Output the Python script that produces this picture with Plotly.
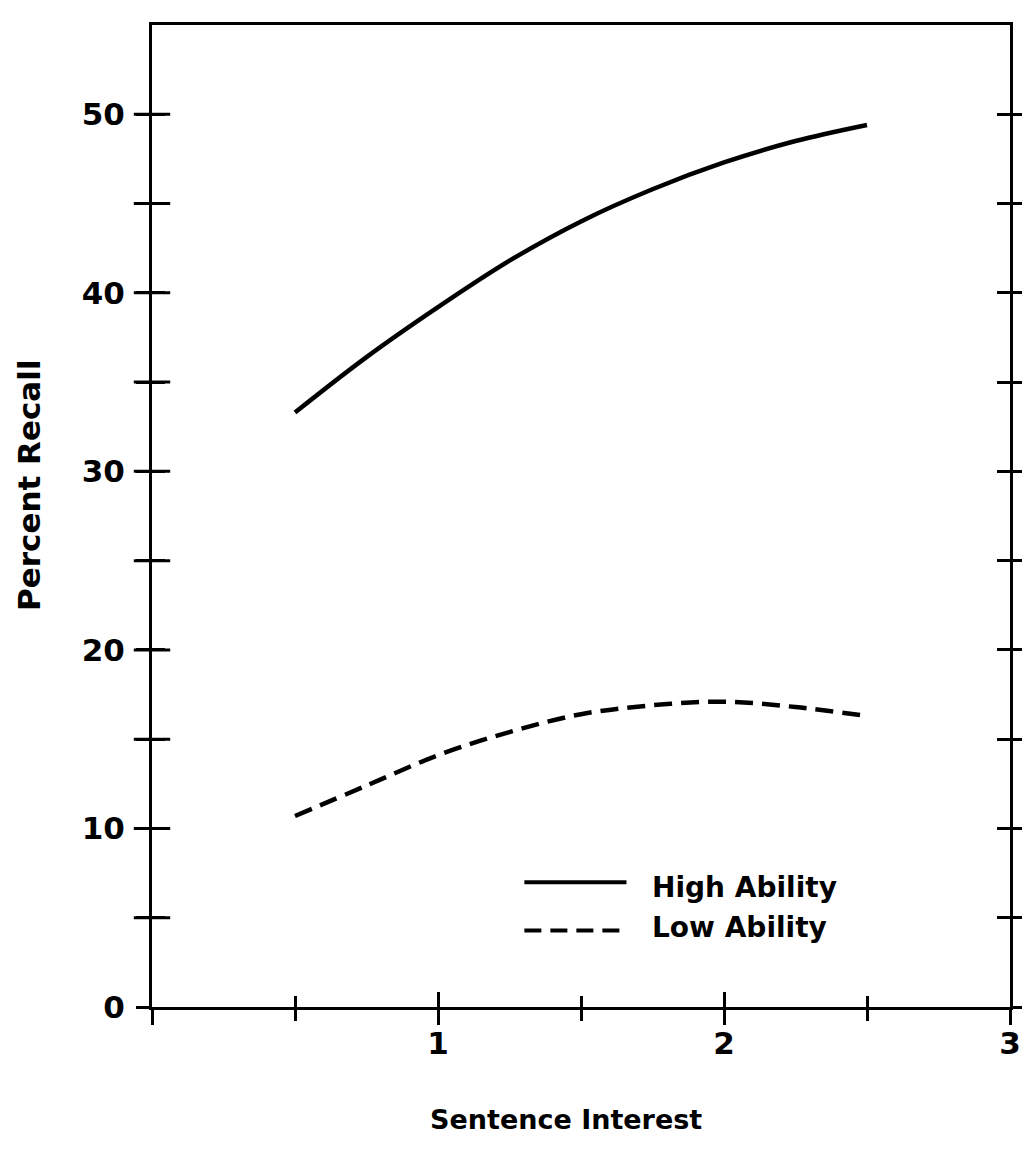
import plotly.graph_objects as go

# sentence interest (x) and percent recall for each ability group
interest = [0.5, 0.75, 1.0, 1.25, 1.5, 1.75, 2.0, 2.25, 2.5]
high_ability = [33.3, 36.4, 39.2, 41.8, 44.0, 45.8, 47.3, 48.5, 49.4]
low_ability = [10.7, 12.4, 14.1, 15.4, 16.4, 16.9, 17.1, 16.8, 16.3]

x_major = [0, 1, 2, 3]
x_major_text = ["", "1", "2", "3"]
x_minor = [0.5, 1.5, 2.5]
y_ticks = [0, 5, 10, 15, 20, 25, 30, 35, 40, 45, 50]
y_text = ["0", "", "10", "", "20", "", "30", "", "40", "", "50"]

legend_names = ["High Ability", "Low Ability"]

bold = dict(family="DejaVu Sans", size=31, color="black", weight="bold")

fig = go.Figure()

fig.add_trace(go.Scatter(
    x=interest, y=high_ability, mode="lines", name=legend_names[0],
    line=dict(color="black", width=4.5, shape="spline"), showlegend=False,
))
fig.add_trace(go.Scatter(
    x=interest, y=low_ability, mode="lines", name=legend_names[1],
    line=dict(color="black", width=4.5, shape="spline", dash="18px,9px"), showlegend=False,
))
# hidden copies so the overlaid tick-only axes get drawn
for xa, ya in [("x2", "y"), ("x", "y2")]:
    fig.add_trace(go.Scatter(
        x=interest, y=high_ability, xaxis=xa, yaxis=ya, mode="lines",
        opacity=0, hoverinfo="skip", showlegend=False,
    ))

# left spine ticks crossing the axis line: horizontal dash markers on x = 0
fig.add_trace(go.Scatter(
    x=[x_major[0]] * (len(y_ticks) - 1), y=y_ticks[1:], mode="markers",
    marker=dict(symbol="line-ew", size=26, color="black",
                line=dict(width=3, color="black")),
    cliponaxis=False, hoverinfo="skip", showlegend=False,
))

# page body has an 8px margin, so the figure is a bit smaller than the window
# axes: ticks cross the axis lines -> one half on the main axes,
# the other half on overlaid copies
fig.update_layout(
    width=1014, height=1133,
    margin=dict(l=144, r=12, t=17, b=134),
    plot_bgcolor="white", paper_bgcolor="white",
    xaxis=dict(
        range=[0, 3], tickvals=x_major, ticktext=x_major_text,
        ticks="outside", ticklen=15, tickwidth=3, tickcolor="black",
        showline=True, linewidth=3, linecolor="black", mirror=True,
        showgrid=False, zeroline=False, tickfont=bold, ticklabelstandoff=-8,
        automargin=False,
        minor=dict(tickvals=x_minor, ticks="outside", ticklen=11, tickwidth=3,
                   tickcolor="black", showgrid=False),
    ),
    xaxis2=dict(
        range=[0, 3], overlaying="x", anchor="y", side="bottom",
        tickvals=x_major, ticks="inside", ticklen=15, tickwidth=3, tickcolor="black",
        showticklabels=False, showline=False, showgrid=False, zeroline=False,
        automargin=False,
        minor=dict(tickvals=x_minor, ticks="inside", ticklen=11, tickwidth=3,
                   tickcolor="black", showgrid=False),
    ),
    yaxis=dict(
        range=[0, 55], tickvals=y_ticks, ticktext=y_text,
        ticks="outside", ticklen=13, tickwidth=3, tickcolor="black",
        showline=True, linewidth=3, linecolor="black", mirror="ticks",
        showgrid=False, zeroline=False, tickfont=bold, ticklabelstandoff=5,
        automargin=False,
    ),
    yaxis2=dict(
        range=[0, 55], overlaying="y", anchor="x", side="left",
        tickvals=y_ticks, ticks="inside", ticklen=13, tickwidth=3, tickcolor="black",
        mirror="ticks", showticklabels=False, showline=False,
        showgrid=False, zeroline=False, automargin=False,
    ),
    showlegend=False,
)

title_font = dict(family="DejaVu Sans", color="black", weight="bold")

# axis titles
fig.add_annotation(text="Sentence Interest", xref="paper", yref="paper",
                   x=0.482, y=-0.115, xanchor="center", yanchor="middle", showarrow=False,
                   font=dict(title_font, size=27))
fig.add_annotation(text="Percent Recall", xref="paper", yref="paper",
                   x=-0.144, y=0.532, xanchor="center", yanchor="middle",
                   textangle=-90, showarrow=False,
                   font=dict(title_font, size=31))

# legend key drawn inside the plot
fig.add_shape(type="line", xref="paper", yref="paper", x0=0.434, x1=0.553, y0=0.127, y1=0.127,
              line=dict(color="black", width=4))
fig.add_shape(type="line", xref="paper", yref="paper", x0=0.434, x1=0.553, y0=0.078, y1=0.078,
              line=dict(color="black", width=4, dash="17px,9px"))
fig.add_annotation(text=legend_names[0], xref="paper", yref="paper", x=0.580, y=0.122,
                   xanchor="left", yanchor="middle", showarrow=False,
                   font=dict(title_font, size=28))
fig.add_annotation(text=legend_names[1], xref="paper", yref="paper", x=0.580, y=0.081,
                   xanchor="left", yanchor="middle", showarrow=False,
                   font=dict(title_font, size=28))

fig.write_html("out.html")
